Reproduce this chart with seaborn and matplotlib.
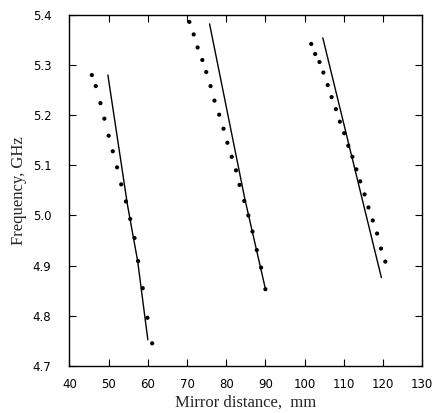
import matplotlib
matplotlib.use("Agg")
import matplotlib.pyplot as plt
import seaborn as sns
import pandas as pd

# Measured points (dots)
dots1_x = [45.7, 46.7, 47.9, 48.9, 50.0, 51.05, 52.15, 53.2, 54.4, 55.5, 56.6, 57.5, 58.7, 59.9, 61.1]
dots1_y = [5.280, 5.258, 5.224, 5.193, 5.159, 5.128, 5.096, 5.062, 5.028, 4.993, 4.955, 4.909, 4.855, 4.796, 4.745]
dots2_x = [70.6, 71.7, 72.7, 73.9, 74.9, 76.0, 77.0, 78.2, 79.3, 80.3, 81.4, 82.5, 83.4, 84.6, 85.65, 86.7, 87.8, 88.9, 90.0]
dots2_y = [5.386, 5.361, 5.335, 5.310, 5.286, 5.258, 5.229, 5.201, 5.173, 5.145, 5.117, 5.090, 5.061, 5.029, 5.000, 4.968, 4.931, 4.896, 4.853]
dots3_x = [101.7, 102.7, 103.8, 104.8, 105.9, 106.9, 108.0, 109.0, 110.1, 111.15, 112.2, 113.2, 114.2, 115.3, 116.3, 117.4, 118.5, 119.5, 120.6]
dots3_y = [5.342, 5.322, 5.306, 5.285, 5.260, 5.236, 5.212, 5.187, 5.164, 5.139, 5.117, 5.092, 5.068, 5.042, 5.016, 4.990, 4.964, 4.934, 4.908]

# Computed curves (lines)
line1_x = [49.8, 54.8, 57.4, 60.0]
line1_y = [5.280, 5.021, 4.909, 4.752]
line2_x = [75.75, 84.75, 89.9]
line2_y = [5.382, 5.033, 4.857]
line3_x = [104.65, 119.6]
line3_y = [5.354, 4.876]

x_ticks = [40, 50, 60, 70, 80, 90, 100, 110, 120, 130]
y_ticks = [4.7, 4.8, 4.9, 5.0, 5.1, 5.2, 5.3, 5.4]

sns.set_theme(style="ticks")
plt.rcParams.update({
    "xtick.direction": "in", "ytick.direction": "in",
    "xtick.top": True, "ytick.right": True,
    "xtick.major.size": 5, "ytick.major.size": 5,
    "axes.linewidth": 1.0,
})

fig = plt.figure(figsize=(4.37, 4.13), dpi=100)
ax = fig.add_axes([0.159, 0.114, 0.807, 0.850])

dots = pd.concat([
    pd.DataFrame({"x": dots1_x, "y": dots1_y, "s": "a"}),
    pd.DataFrame({"x": dots2_x, "y": dots2_y, "s": "b"}),
    pd.DataFrame({"x": dots3_x, "y": dots3_y, "s": "c"}),
])
lines = pd.concat([
    pd.DataFrame({"x": line1_x, "y": line1_y, "s": "a"}),
    pd.DataFrame({"x": line2_x, "y": line2_y, "s": "b"}),
    pd.DataFrame({"x": line3_x, "y": line3_y, "s": "c"}),
])

for name, g in lines.groupby("s"):
    sns.lineplot(data=g, x="x", y="y", ax=ax, color="black", lw=1.0,
                 sort=False, estimator=None)
sns.scatterplot(data=dots, x="x", y="y", ax=ax, color="black", s=9,
                edgecolor="none", legend=False)

ax.set_xlim(40, 130)
ax.set_ylim(4.7, 5.4)
ax.set_xticks(x_ticks)
ax.set_yticks(y_ticks)
ax.set_xticklabels([str(t) for t in x_ticks], fontsize=8.5, family="DejaVu Sans")
ax.set_yticklabels([f"{t:.1f}" for t in y_ticks], fontsize=8.5, family="DejaVu Sans")
for sp in ax.spines.values():
    sp.set_visible(True)
    sp.set_color("black")
ax.tick_params(colors="black", width=0.8)
ax.tick_params(axis="x", pad=9)
ax.tick_params(axis="y", pad=13)
ax.set_xlabel("Mirror distance,  mm", fontsize=12, family="Liberation Serif", labelpad=2)
ax.set_ylabel("Frequency, GHz", fontsize=12, family="Liberation Serif", labelpad=4)

fig.savefig("out.png", dpi=100)
